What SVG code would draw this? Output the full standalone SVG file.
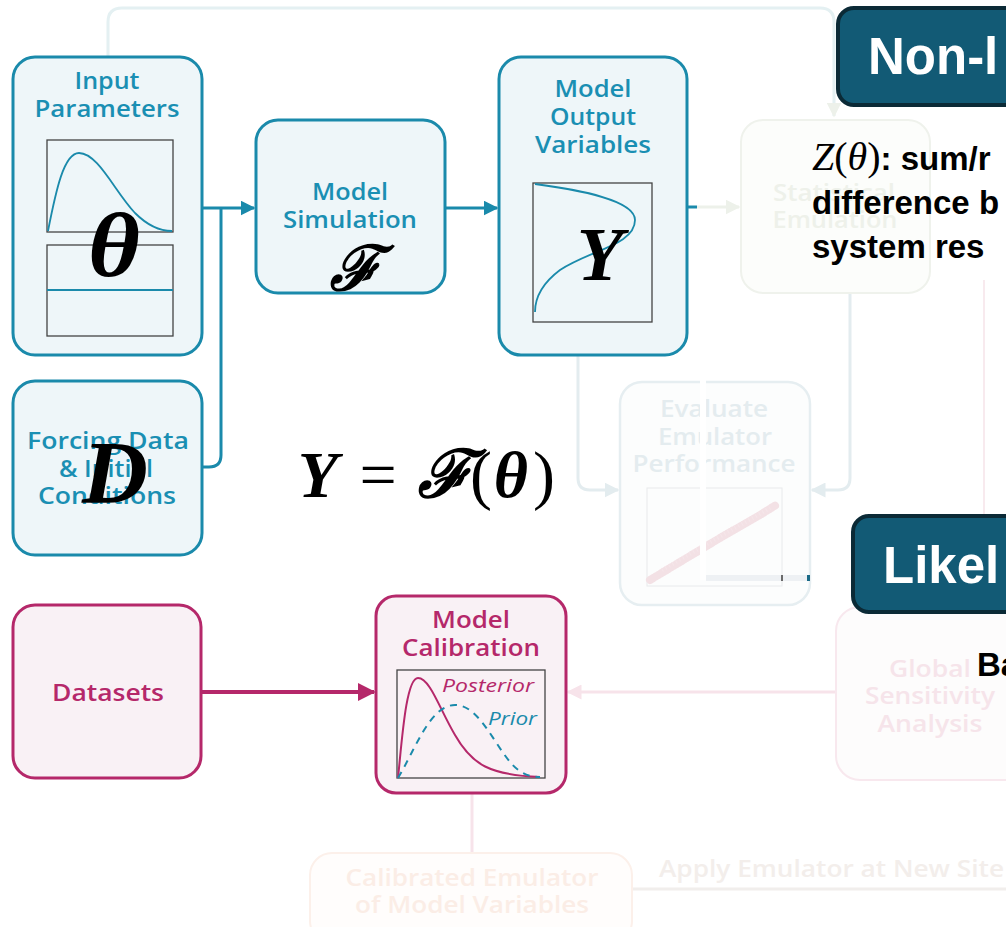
<svg xmlns="http://www.w3.org/2000/svg" width="1006" height="927" viewBox="0 0 1006 927">
<defs>
<style>
.tbox{fill:#eef6f9;stroke:#1a8aab;stroke-width:3}
.mbox{fill:#f9f1f5;stroke:#b5286a;stroke-width:3}
.tt{font-family:"Open Sans","Liberation Sans",Arial,sans-serif;font-weight:600;font-size:23px;fill:#1a8fb3;text-anchor:middle}
.mt{font-family:"Open Sans","Liberation Sans",Arial,sans-serif;font-weight:600;font-size:23px;fill:#b5286a;text-anchor:middle}
.ft{font-family:"Open Sans","Liberation Sans",Arial,sans-serif;font-weight:600;font-size:23px;text-anchor:middle}
.math{font-family:"Liberation Serif","DejaVu Serif",serif;font-weight:bold;font-style:italic;fill:#000}
.hdr{fill:#125a75;stroke:#0b2a36;stroke-width:4}
.ht{font-family:"Liberation Sans",Arial,sans-serif;font-weight:bold;font-size:51px;fill:#fff}
.bt{font-family:"Liberation Sans",Arial,sans-serif;font-weight:bold;font-size:33px;fill:#000}
.plot{fill:none;stroke:#444;stroke-width:1.3}
.conn{fill:none;stroke:#1a8aab;stroke-width:3}
</style>
<marker id="at" viewBox="0 0 10 10" refX="9" refY="5" markerWidth="5" markerHeight="5" orient="auto" markerUnits="strokeWidth"><path d="M0,0 L10,5 L0,10 z" fill="#1a8aab"/></marker>
<marker id="am" viewBox="0 0 10 10" refX="9" refY="5" markerWidth="4.5" markerHeight="4.5" orient="auto" markerUnits="strokeWidth"><path d="M0,0 L10,5 L0,10 z" fill="#b5286a"/></marker>
<marker id="af" viewBox="0 0 10 10" refX="9" refY="5" markerWidth="5" markerHeight="5" orient="auto" markerUnits="strokeWidth"><path d="M0,0 L10,5 L0,10 z" fill="#e3ecef"/></marker>
<marker id="ag" viewBox="0 0 10 10" refX="9" refY="5" markerWidth="5" markerHeight="5" orient="auto" markerUnits="strokeWidth"><path d="M0,0 L10,5 L0,10 z" fill="#edf1ea"/></marker>
<marker id="ap" viewBox="0 0 10 10" refX="9" refY="5" markerWidth="5" markerHeight="5" orient="auto" markerUnits="strokeWidth"><path d="M0,0 L10,5 L0,10 z" fill="#f7e3ea"/></marker>
</defs>
<rect width="1006" height="927" fill="#fff"/>

<g id="connectors">
<path d="M108,57 V22 Q108,8 122,8 H820 Q834,8 834,22 V116" fill="none" stroke="#e4f0f2" stroke-width="3" marker-end="url(#ag)"/>
<path class="conn" d="M202,208 H254" marker-end="url(#at)"/>
<path class="conn" d="M221,208 V455 Q221,467 209,467 H202"/>
<path class="conn" d="M445,208 H497" marker-end="url(#at)"/>
<path d="M687,207 H697" stroke="#1a8aab" stroke-width="3"/>
<path d="M697,207 H739" stroke="#edf1ea" stroke-width="3" marker-end="url(#ag)"/>
<path d="M578,355 V478 Q578,490 590,490 H618" fill="none" stroke="#e3ecef" stroke-width="3" marker-end="url(#af)"/>
<path d="M850,293 V478 Q850,490 838,490 H812" fill="none" stroke="#e3ecef" stroke-width="3" marker-end="url(#af)"/>
<path d="M984,280 V610" stroke="#f8eaee" stroke-width="2"/>
<path d="M201,692 H374" fill="none" stroke="#b5286a" stroke-width="4" marker-end="url(#am)"/>
<path d="M836,692 H568" stroke="#f7e3ea" stroke-width="3" marker-end="url(#ap)"/>
<path d="M472,793 V853" stroke="#f7e3ea" stroke-width="3"/>
<path d="M632,889 H1006" stroke="#f1eeec" stroke-width="3"/>
</g>

<g id="input-parameters">
<rect class="tbox" x="13" y="57" width="189" height="298" rx="22"/>
<text class="tt" x="107" y="89" textLength="65" lengthAdjust="spacingAndGlyphs">Input</text>
<text class="tt" x="107" y="117" textLength="145" lengthAdjust="spacingAndGlyphs">Parameters</text>
<rect class="plot" x="47" y="140" width="126" height="92"/>
<path d="M48,231 C56,190 64,153 79,153 C98,153 115,192 135,213 C148,226 160,231 172,231" fill="none" stroke="#1a8aab" stroke-width="1.8"/>
<rect class="plot" x="47" y="245" width="126" height="91"/>
<line x1="47" y1="290" x2="173" y2="290" stroke="#1a8aab" stroke-width="1.8"/>
<text class="math" x="114" y="276" font-size="92" text-anchor="middle" textLength="52" lengthAdjust="spacingAndGlyphs">θ</text>
</g>

<g id="forcing-data">
<rect class="tbox" x="13" y="381" width="189" height="174" rx="22"/>
<text class="tt" x="108" y="449" textLength="162" lengthAdjust="spacingAndGlyphs">Forcing Data</text>
<text class="tt" x="106" y="477" textLength="94" lengthAdjust="spacingAndGlyphs">&amp; Initial</text>
<text class="tt" x="107" y="504" textLength="138" lengthAdjust="spacingAndGlyphs">Conditions</text>
<text class="math" x="115" y="502" font-size="88" text-anchor="middle" textLength="66" lengthAdjust="spacingAndGlyphs">D</text>
</g>

<g id="model-simulation">
<rect class="tbox" x="256" y="120" width="189" height="173" rx="22"/>
<text class="tt" x="350" y="200" textLength="76" lengthAdjust="spacingAndGlyphs">Model</text>
<text class="tt" x="350" y="228" textLength="134" lengthAdjust="spacingAndGlyphs">Simulation</text>
<text class="math" x="355" y="290" font-size="62" text-anchor="middle">ℱ</text>
</g>

<g id="model-output">
<rect class="tbox" x="499" y="57" width="188" height="298" rx="22"/>
<text class="tt" x="593" y="97" textLength="77" lengthAdjust="spacingAndGlyphs">Model</text>
<text class="tt" x="593" y="125" textLength="86" lengthAdjust="spacingAndGlyphs">Output</text>
<text class="tt" x="593" y="153" textLength="116" lengthAdjust="spacingAndGlyphs">Variables</text>
<rect class="plot" x="533" y="183" width="119" height="139"/>
<path d="M535,184 C580,190 635,200 635,220 C635,245 590,250 560,270 C540,285 535,300 535,312" fill="none" stroke="#1a8aab" stroke-width="1.8"/>
<text class="math" x="600" y="280" font-size="76" text-anchor="middle">Y</text>
</g>

<g id="equation">
<text font-family="'Liberation Serif','DejaVu Serif',serif" font-size="66" y="497" text-anchor="middle"><tspan x="318" font-weight="bold" font-style="italic">Y</tspan><tspan x="378">=</tspan><tspan x="445" font-weight="bold" font-style="italic">ℱ</tspan><tspan x="481">(</tspan><tspan x="511" font-weight="bold" font-style="italic">θ</tspan><tspan x="544">)</tspan></text>
</g>

<g id="statistical-emulation">
<rect x="741" y="120" width="189" height="173" rx="22" fill="#fcfdfb" stroke="#eff2ec" stroke-width="2"/>
<text class="ft" x="834" y="201" fill="#eef1ea" textLength="122" lengthAdjust="spacingAndGlyphs">Statistical</text>
<text class="ft" x="835" y="228" fill="#eef1ea" textLength="125" lengthAdjust="spacingAndGlyphs">Emulation</text>
</g>

<g id="evaluate-emulator">
<rect x="620" y="382" width="190" height="223" rx="22" fill="#fcfdfd" stroke="#e6eef1" stroke-width="2.5"/>
<text class="ft" x="714" y="417" fill="#e4ecef" textLength="108" lengthAdjust="spacingAndGlyphs">Evaluate</text>
<text class="ft" x="715" y="445" fill="#e4ecef" textLength="114" lengthAdjust="spacingAndGlyphs">Emulator</text>
<text class="ft" x="714" y="472" fill="#e4ecef" textLength="163" lengthAdjust="spacingAndGlyphs">Performance</text>
<rect x="647" y="488" width="135" height="98" fill="none" stroke="#e8eaec" stroke-width="1"/>
<path d="M650,580 L690,556 L720,538 L760,515 L776,505" stroke="#f3e1e5" stroke-width="8" stroke-linecap="round" stroke-dasharray="1.5,1.5" fill="none"/>
<path d="M662,570 L700,548 L735,528 L770,508" stroke="#f5e6ea" stroke-width="4" stroke-dasharray="1,3" fill="none"/>
<rect x="700" y="380" width="6" height="200" fill="#fff"/>
<rect x="706" y="575" width="75" height="6" fill="#eef1f4"/>
<rect x="781" y="575" width="2" height="6" fill="#6a6a6a"/>
<rect x="783" y="575" width="24" height="6" fill="#eef1f4"/>
<rect x="807" y="575" width="3" height="6" fill="#1a6a87"/>
</g>

<g id="global-sensitivity">
<rect x="836" y="607" width="200" height="173" rx="24" fill="#fdfcfc" stroke="#f8e8ee" stroke-width="2"/>
<text class="ft" x="930" y="677" fill="#f6e4ea" textLength="82" lengthAdjust="spacingAndGlyphs">Global</text>
<text class="ft" x="930" y="704" fill="#f6e4ea" textLength="130" lengthAdjust="spacingAndGlyphs">Sensitivity</text>
<text class="ft" x="930" y="732" fill="#f6e4ea" textLength="105" lengthAdjust="spacingAndGlyphs">Analysis</text>
</g>

<g id="header-nonl">
<rect class="hdr" x="838" y="8" width="190" height="97" rx="16"/>
<text class="ht" x="868" y="74">Non-l</text>
</g>

<g id="z-text">
<text class="bt" x="812" y="170"><tspan font-family="'Liberation Serif',serif" font-size="40" font-style="italic" font-weight="normal">Z</tspan><tspan font-family="'Liberation Serif',serif" font-size="40" font-weight="normal">(</tspan><tspan font-family="'Liberation Serif',serif" font-size="40" font-style="italic" font-weight="normal">θ</tspan><tspan font-family="'Liberation Serif',serif" font-size="40" font-weight="normal">)</tspan>: sum/r</text>
<text class="bt" x="812" y="214">difference b</text>
<text class="bt" x="812" y="258">system res</text>
</g>

<g id="header-likel">
<rect class="hdr" x="853" y="516" width="190" height="96" rx="16"/>
<text class="ht" x="883" y="583">Likel</text>
</g>

<text class="bt" x="977" y="676">Ba</text>

<g id="datasets">
<rect class="mbox" x="13" y="605" width="188" height="173" rx="22"/>
<text class="mt" x="108" y="701" textLength="112" lengthAdjust="spacingAndGlyphs">Datasets</text>
</g>

<g id="model-calibration">
<rect class="mbox" x="376" y="596" width="190" height="197" rx="20"/>
<text class="mt" x="471" y="628" textLength="78" lengthAdjust="spacingAndGlyphs">Model</text>
<text class="mt" x="471" y="656" textLength="138" lengthAdjust="spacingAndGlyphs">Calibration</text>
<rect class="plot" x="397" y="670" width="148" height="108"/>
<path d="M398,778 C402,740 406,678 418,678 C430,678 440,710 455,735 C472,765 490,775 540,777" fill="none" stroke="#b5286a" stroke-width="2"/>
<path d="M398,778 C415,750 430,705 455,705 C478,705 492,740 510,762 C520,774 530,777 540,777" fill="none" stroke="#1a8aab" stroke-width="2" stroke-dasharray="7,6"/>
<text x="442" y="692" font-family="'Open Sans','Liberation Sans',Arial,sans-serif" font-weight="500" font-size="18" font-style="italic" fill="#b5286a" textLength="92" lengthAdjust="spacingAndGlyphs">Posterior</text>
<text x="488" y="725" font-family="'Open Sans','Liberation Sans',Arial,sans-serif" font-weight="500" font-size="18" font-style="italic" fill="#1a8aab" textLength="49" lengthAdjust="spacingAndGlyphs">Prior</text>
</g>

<g id="calibrated-emulator">
<rect x="310" y="853" width="322" height="90" rx="22" fill="#fffdfc" stroke="#fcf0ea" stroke-width="2"/>
<text class="ft" x="472" y="886" fill="#fbede6" textLength="253" lengthAdjust="spacingAndGlyphs">Calibrated Emulator</text>
<text class="ft" x="472" y="913" fill="#fbede6" textLength="234" lengthAdjust="spacingAndGlyphs">of Model Variables</text>
</g>

<text x="659" y="877" font-family="'Open Sans','Liberation Sans',Arial,sans-serif" font-weight="600" font-size="23" fill="#f3eeeb" textLength="345" lengthAdjust="spacingAndGlyphs">Apply Emulator at New Site</text>
</svg>
